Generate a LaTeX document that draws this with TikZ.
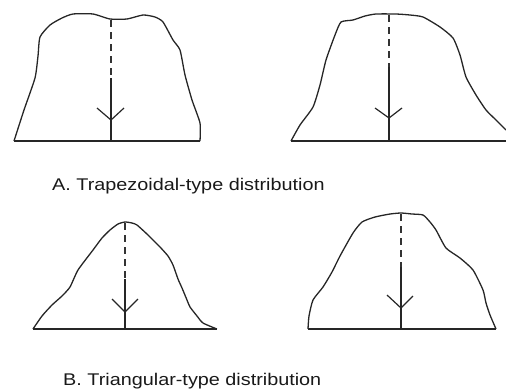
\documentclass[tikz,border=0pt]{standalone}
\usepackage{fontspec}
\setmainfont{Liberation Sans}
\newfontfamily\capfont[FakeStretch=1.17]{Liberation Sans}
\usepackage{tikz}

\begin{document}
\begin{tikzpicture}[
    x=1bp, y=-1bp,
    outline/.style = {line width=1.3bp, draw=black!85, smooth, tension=0.35,
                      line join=round},
    baseln/.style  = {line width=1.3bp, draw=black!85},
    axisdash/.style = {line width=1.3bp, draw=black!80,
                       dash pattern=on 7bp off 5bp},
    axissolid/.style = {line width=1.3bp, draw=black!85},
    barb/.style    = {line width=1.2bp, draw=black!85},
    caption/.style = {anchor=base west, inner sep=0pt,
                      font=\capfont\fontsize{17}{20}\selectfont, text=black!90}
]
\useasboundingbox (0,0) rectangle (506,391);

% ========= A: trapezoidal, left =========
\coordinate (tlL)   at (14,141);
\coordinate (tlR)   at (200,141);
\coordinate (tlTop) at (111,20);
\coordinate (tlMid) at (111,78);
\coordinate (tlFt)  at (111,141);
\coordinate (tlTip) at (111,120);
\draw[outline] plot coordinates {(14,141) (24,110) (35,78) (38,56) (40,37)
   (50,25) (62,18) (73,14) (93,14) (110,19) (127,19) (143,15) (155,17)
   (163,22) (173,40) (180,50) (185,75) (192,100) (200,123) (200,141)};
\draw[baseln] (tlL) -- (tlR);
\draw[axisdash] (tlTop) -- (tlMid);
\draw[axissolid] (tlMid) -- (tlFt);
\draw[barb] (97,108) -- (tlTip) -- (124,108);

% ========= A: trapezoidal, right =========
\coordinate (trL)   at (291,141);
\coordinate (trR)   at (506,141);
\coordinate (trTop) at (389,15);
\coordinate (trMid) at (389,67);
\coordinate (trFt)  at (389,141);
\coordinate (trTip) at (389,118);
\draw[outline] plot coordinates {(291,141) (300,125) (313,107) (320,85)
   (326,60) (335,35) (341,22) (353,20) (365,16) (376,14) (396,14) (410,15)
   (423,17) (440,27) (453,38) (460,55) (466,77) (476,95) (486,110)
   (496,120) (506,130)};
\draw[baseln] (trL) -- (trR);
\draw[axisdash] (trTop) -- (trMid);
\draw[axissolid] (trMid) -- (trFt);
\draw[barb] (375,108) -- (trTip) -- (402,108);

\node[caption] (capA) at (52,190) {A. Trapezoidal-type distribution};

% ========= B: triangular, left =========
\coordinate (blL)   at (33,329);
\coordinate (blR)   at (217,329);
\coordinate (blTop) at (125,223);
\coordinate (blMid) at (125,279);
\coordinate (blFt)  at (125,329);
\coordinate (blTip) at (125,312);
\draw[outline] plot coordinates {(33,329) (42,316) (52,305) (62,296)
   (70,287) (78,270) (93,250) (102,238) (110,230) (118,224) (125,222)
   (132,223) (137,225) (148,235) (160,247) (168,256) (173,265) (178,279)
   (182,288) (187,300) (190,307) (197,316) (203,323) (217,329)};
\draw[baseln] (blL) -- (blR);
\draw[axisdash] (blTop) -- (blMid);
\draw[axissolid] (blMid) -- (blFt);
\draw[barb] (112,299) -- (blTip) -- (138,299);

% ========= B: triangular, right =========
\coordinate (brL)   at (308,329);
\coordinate (brR)   at (496,329);
\coordinate (brTop) at (401,214);
\coordinate (brMid) at (401,267);
\coordinate (brFt)  at (401,329);
\coordinate (brTip) at (401,308);
\draw[outline] plot coordinates {(308,329) (309,316) (313,300) (323,287)
   (332,272) (340,256) (353,233) (362,222) (375,217) (390,214) (401,213)
   (412,214) (423,215) (430,222) (436,230) (446,248) (460,258) (473,270)
   (483,290) (486,303) (490,315) (496,329)};
\draw[baseln] (brL) -- (brR);
\draw[axisdash] (brTop) -- (brMid);
\draw[axissolid] (brMid) -- (brFt);
\draw[barb] (387,295) -- (brTip) -- (413,296);

\node[caption] (capB) at (63,385) {B. Triangular-type distribution};
\end{tikzpicture}
\end{document}
